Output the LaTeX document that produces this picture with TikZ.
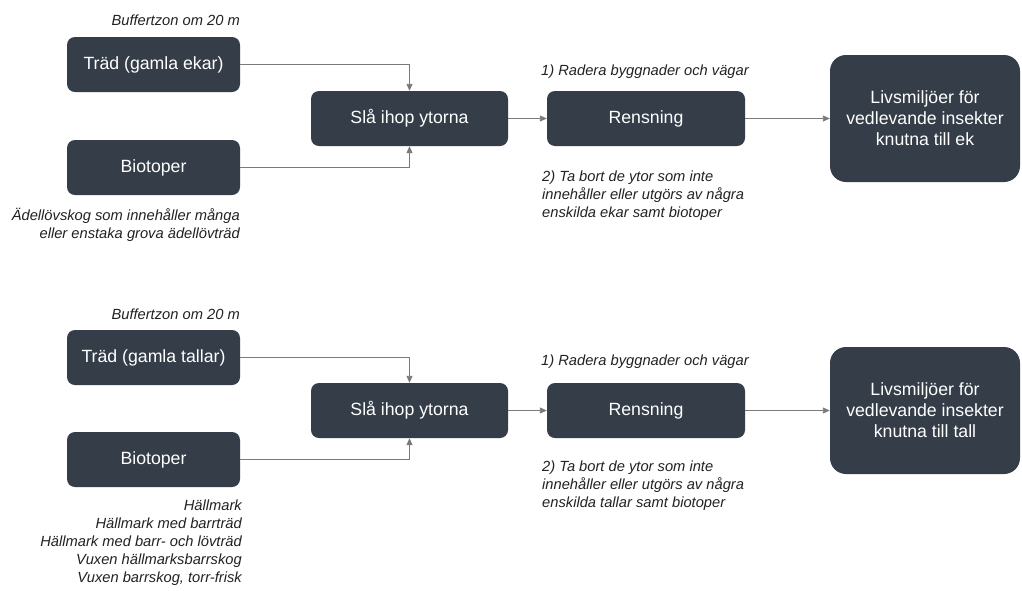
\documentclass[tikz,border=0pt]{standalone}
\usepackage{fontspec}
\setmainfont{Liberation Sans}
\usetikzlibrary{arrows.meta}
\definecolor{boxfill}{HTML}{343D48}
\definecolor{linegray}{HTML}{7A7A7A}
\definecolor{captxt}{HTML}{222222}
\tikzset{
  box/.style={fill=boxfill, rounded corners=8pt, text=white, font=\fontsize{17.7}{21}\selectfont, align=center, inner sep=0pt},
  bigbox/.style={box, rounded corners=16pt},
  captext/.style={font=\fontsize{14.7}{18}\selectfont\itshape, text=captxt, inner sep=0pt},
  conn/.style={draw=linegray, line width=0.9pt, -{Triangle[length=7pt,width=6pt]}}
}
\begin{document}
\begin{tikzpicture}[x=1pt,y=-1pt]
\useasboundingbox (0,0) rectangle (1022,590);
\fill[white] (0,0) rectangle (1022,590);
% ---------- top row ----------
\node[box, minimum width=173pt, minimum height=55pt] (t1) at (153.5,64.5) {Träd (gamla ekar)};
\node[box, minimum width=173pt, minimum height=55pt] (b1) at (153.5,167.5) {Biotoper};
\node[box, minimum width=197pt, minimum height=55pt] (s1) at (409.5,118.5) {Slå ihop ytorna};
\node[box, minimum width=198pt, minimum height=55pt] (r1) at (646,118.5) {Rensning};
\node[bigbox, minimum width=190pt, minimum height=127pt] (l1) at (925,118.5) {Livsmiljöer för\\vedlevande insekter\\knutna till ek};
\node[captext, anchor=base east] (bz1) at (240,25) {Buffertzon om 20 m};
\node[captext, anchor=north east, align=right] (bc1) at (240,208) {Ädellövskog som innehåller många\\eller enstaka grova ädellövträd};
\node[captext, anchor=base west] (ra1) at (541,75) {1) Radera byggnader och vägar};
\node[captext, anchor=north west, align=left] (tb1) at (542,171) {2) Ta bort de ytor som inte\\innehåller eller utgörs av några\\enskilda ekar samt biotoper};
\draw[conn] (t1.east) -| (s1.north);
\draw[conn] (b1.east) -| (s1.south);
\draw[conn] (s1.east) -- (r1.west);
\draw[conn] (r1.east) -- (l1.west);
% ---------- bottom row ----------
\node[box, minimum width=173pt, minimum height=55pt] (t2) at (153.5,357.5) {Träd (gamla tallar)};
\node[box, minimum width=173pt, minimum height=55pt] (b2) at (153.5,459.5) {Biotoper};
\node[box, minimum width=197pt, minimum height=55pt] (s2) at (409.5,410.5) {Slå ihop ytorna};
\node[box, minimum width=198pt, minimum height=55pt] (r2) at (646,410.5) {Rensning};
\node[bigbox, minimum width=190pt, minimum height=127pt] (l2) at (925,410.5) {Livsmiljöer för\\vedlevande insekter\\knutna till tall};
\node[captext, anchor=base east] (bz2) at (240,319) {Buffertzon om 20 m};
\node[captext, anchor=north east, align=right] (bc2) at (242,500) {Hällmark\\Hällmark med barrträd\\Hällmark med barr- och lövträd\\Vuxen hällmarksbarrskog\\Vuxen barrskog, torr-frisk};
\node[captext, anchor=base west] (ra2) at (541,365) {1) Radera byggnader och vägar};
\node[captext, anchor=north west, align=left] (tb2) at (542,461) {2) Ta bort de ytor som inte\\innehåller eller utgörs av några\\enskilda tallar samt biotoper};
\draw[conn] (t2.east) -| (s2.north);
\draw[conn] (b2.east) -| (s2.south);
\draw[conn] (s2.east) -- (r2.west);
\draw[conn] (r2.east) -- (l2.west);
\end{tikzpicture}
\end{document}
